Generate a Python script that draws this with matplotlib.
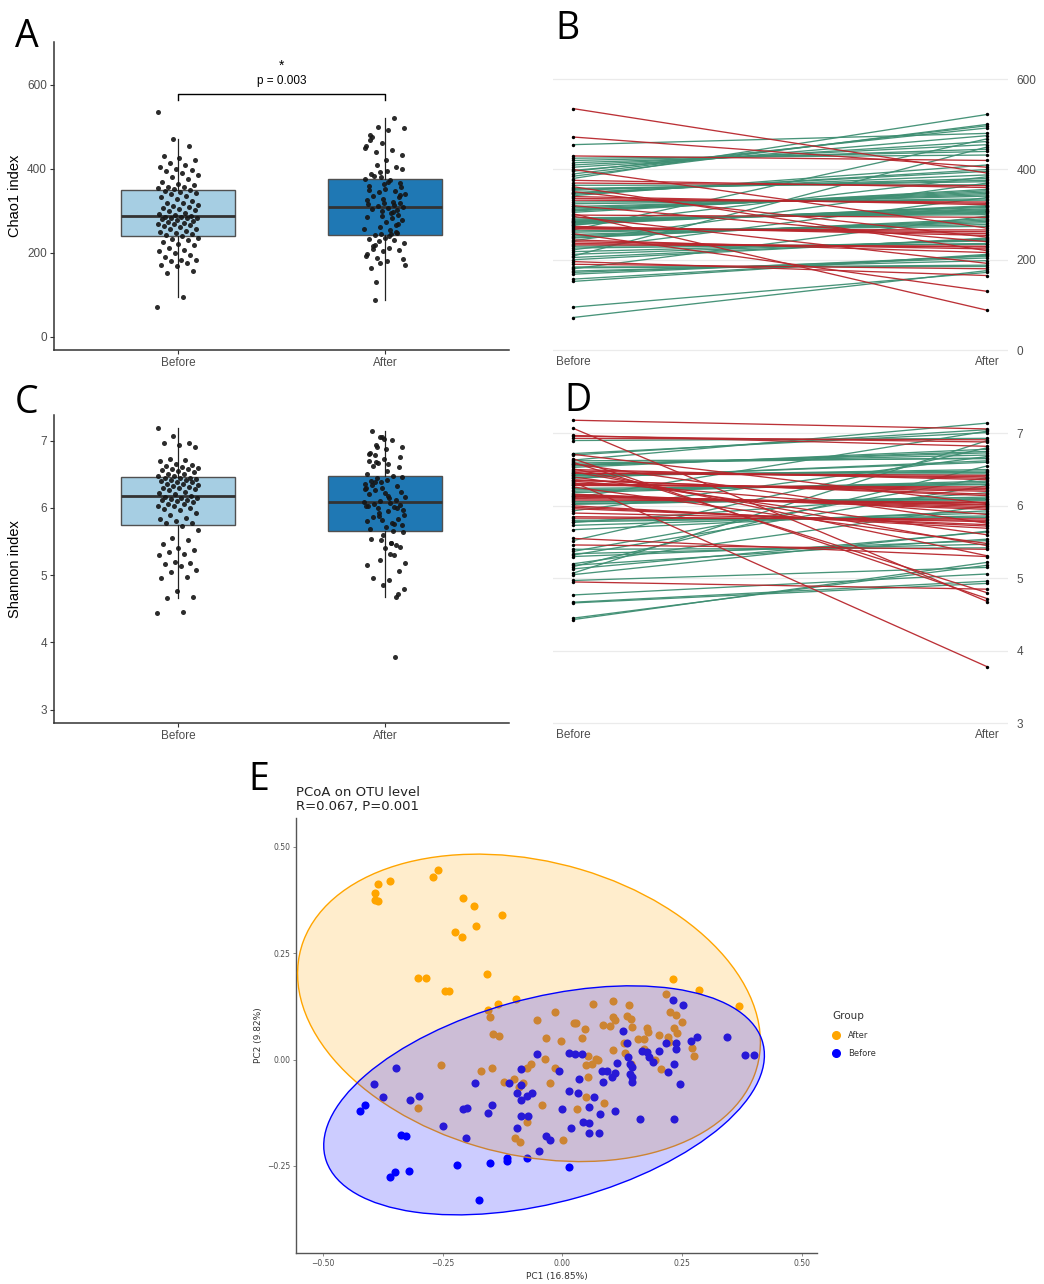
import matplotlib
matplotlib.use('Agg')
import matplotlib.pyplot as plt
from matplotlib.lines import Line2D
from matplotlib.patches import Ellipse
import numpy as np

# ---- data ----
groups = ['Before', 'After']

# Chao1, paired samples (same order in both lists)
chao1_before = [72, 95, 152, 157, 168, 172, 175, 180, 182, 184,
                190, 196, 200, 205, 208, 212, 218, 222, 226, 230,
                233, 236, 240, 242, 244, 248, 250, 253, 256, 258,
                261, 264, 266, 268, 270, 272, 274, 276, 278, 280,
                282, 283, 284, 285, 286, 288, 290, 293, 296, 299,
                302, 305, 308, 310, 312, 315, 318, 320, 324, 328,
                332, 336, 340, 342, 345, 347, 349, 351, 354, 356,
                358, 362, 365, 370, 376, 380, 385, 390, 396, 398,
                400, 405, 410, 415, 420, 425, 430, 455, 472, 535]
chao1_after = [176, 172, 212, 210, 208, 204, 198, 297, 188, 185,
               180, 165, 248, 246, 450, 244, 242, 338, 236, 234,
               230, 228, 224, 370, 216, 291, 288, 285, 282, 130,
               278, 274, 468, 266, 262, 258, 254, 384, 320, 318,
               316, 313, 311, 309, 307, 305, 303, 300, 192, 294,
               88, 356, 353, 350, 347, 344, 341, 240, 335, 332,
               328, 325, 322, 410, 400, 396, 388, 250, 380, 376,
               373, 220, 366, 364, 360, 522, 500, 497, 492, 475,
               270, 462, 455, 445, 440, 432, 420, 480, 405, 392]

# Shannon, paired samples
shannon_before = [4.43, 4.45, 4.66, 4.67, 4.77, 4.95, 4.97, 5.05, 5.07, 5.13,
                  5.16, 5.18, 5.20, 5.30, 5.32, 5.34, 5.37, 5.40, 5.46, 5.52,
                  5.55, 5.67, 5.73, 5.77, 5.78, 5.80, 5.83, 5.85, 5.90, 5.93,
                  5.96, 5.98, 6.00, 6.02, 6.03, 6.05, 6.06, 6.08, 6.10, 6.11,
                  6.12, 6.13, 6.14, 6.15, 6.16, 6.18, 6.20, 6.22, 6.24, 6.26,
                  6.28, 6.29, 6.30, 6.31, 6.33, 6.34, 6.35, 6.36, 6.38, 6.39,
                  6.40, 6.41, 6.42, 6.43, 6.44, 6.45, 6.45, 6.47, 6.48, 6.50,
                  6.51, 6.53, 6.55, 6.56, 6.57, 6.58, 6.59, 6.60, 6.62, 6.63,
                  6.65, 6.70, 6.71, 6.72, 6.90, 6.93, 6.96, 6.97, 7.07, 7.18]
shannon_after = [5.22, 5.18, 4.93, 4.96, 5.06, 4.85, 5.15, 5.65, 6.90, 5.64,
                 6.55, 5.54, 6.00, 5.52, 6.28, 5.47, 6.39, 5.42, 5.40, 6.80,
                 5.30, 5.93, 5.90, 6.18, 5.86, 5.84, 5.82, 5.80, 5.78, 6.68,
                 5.74, 5.72, 5.69, 6.12, 6.10, 6.09, 6.07, 6.05, 6.04, 7.03,
                 6.02, 6.01, 5.99, 5.97, 5.95, 6.34, 6.32, 6.30, 6.29, 5.48,
                 6.26, 6.24, 6.22, 6.20, 3.78, 5.88, 6.16, 6.14, 6.62, 6.60,
                 5.60, 6.50, 6.48, 6.44, 6.46, 6.42, 6.40, 5.45, 6.38, 6.36,
                 5.31, 6.78, 6.75, 6.73, 6.70, 5.76, 6.66, 4.80, 6.65, 7.14,
                 4.72, 7.05, 6.03, 7.01, 6.93, 6.91, 6.88, 6.82, 4.68, 7.06]

chao1_p_text = 'p = 0.003'
chao1_sig_text = '*'

# PCoA coordinates (PC1, PC2)
pcoa_after = [
    (-0.385, 0.413), (-0.360, 0.421), (-0.391, 0.391), (-0.391, 0.374), (-0.386, 0.372),
    (-0.270, 0.429), (-0.261, 0.446), (-0.207, 0.379), (-0.184, 0.360), (-0.180, 0.313),
    (-0.126, 0.339), (-0.224, 0.301), (-0.210, 0.287), (-0.158, 0.200), (-0.303, 0.191),
    (-0.285, 0.192), (-0.245, 0.161), (-0.237, 0.162), (-0.135, 0.130), (-0.098, 0.142),
    (-0.155, 0.117), (-0.151, 0.099), (0.230, 0.189), (0.285, 0.164), (0.370, 0.127),
    (-0.054, 0.092), (-0.016, 0.111), (0.064, 0.131), (0.106, 0.137), (0.138, 0.128),
    (0.216, 0.153), (0.224, 0.111), (0.238, 0.104), (0.250, 0.089), (0.106, 0.101),
    (0.110, 0.093), (0.134, 0.103), (0.144, 0.095), (0.024, 0.085), (0.029, 0.087),
    (0.085, 0.081), (0.100, 0.078), (0.146, 0.076), (0.048, 0.071), (0.176, 0.074),
    (0.178, 0.064), (0.202, 0.057), (0.220, 0.054), (0.234, 0.073), (0.240, 0.062),
    (0.158, 0.048), (0.170, 0.048), (-0.146, 0.060), (-0.133, 0.056), (-0.034, 0.051),
    (0.041, 0.051), (-0.003, 0.043), (0.128, 0.040), (0.222, 0.041), (0.270, 0.028),
    (0.275, 0.009), (0.106, 0.023), (0.130, 0.015), (0.170, 0.024), (0.053, 0.009),
    (0.070, 0.001), (0.074, -0.002), (0.061, -0.010), (0.050, -0.013), (-0.036, 0.002),
    (-0.066, -0.010), (-0.075, -0.020), (-0.254, -0.012), (-0.171, -0.027), (-0.147, -0.020),
    (-0.016, -0.020), (0.144, -0.010), (0.194, -0.002), (0.206, -0.023), (0.054, -0.041),
    (-0.123, -0.054), (-0.102, -0.045), (-0.091, -0.064), (-0.026, -0.056), (-0.082, -0.056),
    (0.050, -0.089), (0.086, -0.103), (-0.042, -0.107), (0.030, -0.117), (-0.301, -0.114),
    (-0.075, -0.148), (-0.099, -0.185), (-0.088, -0.194), (0.002, -0.189),
]
pcoa_before = [
    (-0.424, -0.122), (-0.412, -0.107), (-0.394, -0.057), (-0.376, -0.089), (-0.348, -0.019),
    (-0.338, -0.177), (-0.328, -0.180), (-0.360, -0.277), (-0.350, -0.264), (-0.320, -0.261),
    (-0.319, -0.095), (-0.299, -0.085), (-0.250, -0.157), (-0.220, -0.247), (-0.207, -0.117),
    (-0.200, -0.114), (-0.202, -0.185), (-0.183, -0.056), (-0.175, -0.330), (-0.155, -0.126),
    (-0.147, -0.108), (-0.151, -0.244), (-0.116, -0.232), (-0.116, -0.238), (-0.111, -0.056),
    (-0.096, -0.079), (-0.087, -0.023), (-0.087, -0.059), (-0.086, -0.096), (-0.086, -0.132),
    (-0.072, -0.132), (-0.074, -0.085), (-0.063, -0.079), (-0.096, -0.161), (-0.074, -0.232),
    (-0.050, -0.216), (-0.034, -0.180), (-0.027, -0.189), (-0.053, 0.013), (-0.008, -0.027),
    (0.000, -0.116), (0.013, -0.073), (0.013, 0.015), (0.026, 0.012), (0.041, 0.013),
    (0.032, -0.078), (0.035, -0.045), (0.018, -0.162), (0.043, -0.146), (0.056, -0.150),
    (0.056, -0.111), (0.056, -0.172), (0.066, -0.087), (0.077, -0.173), (0.079, -0.128),
    (0.082, -0.026), (0.084, -0.053), (0.094, -0.026), (0.104, -0.040), (0.110, -0.031),
    (0.110, -0.120), (0.114, -0.009), (0.126, 0.067), (0.134, 0.039), (0.136, 0.005),
    (0.142, -0.010), (0.146, -0.018), (0.141, -0.034), (0.146, -0.040), (0.145, -0.054),
    (0.162, -0.140), (0.166, 0.021), (0.176, 0.017), (0.181, 0.005), (0.190, -0.005),
    (0.202, 0.021), (0.216, 0.038), (0.221, -0.029), (0.232, 0.140), (0.233, -0.010),
    (0.238, 0.040), (0.238, 0.025), (0.234, -0.139), (0.246, -0.057), (0.252, 0.129),
    (0.269, 0.044), (0.281, 0.054), (0.344, 0.054), (0.382, 0.010), (0.400, 0.010),
    (0.013, -0.253),
]
# 95% confidence ellipses: centre, semi-axes, angle (deg)
ellipse_center = {'After': (-0.070, 0.1215), 'Before': (-0.0385, -0.096)}
ellipse_axes = {'After': (0.497, 0.343), 'Before': (0.477, 0.239)}
ellipse_angle = {'After': -18.5, 'Before': 17.5}

pcoa_title = ['PCoA on OTU level', 'R=0.067, P=0.001']
pc1_label = 'PC1 (16.85%)'
pc2_label = 'PC2 (9.82%)'

# ---- styles ----
box_fill = ['#A6CEE3', '#1F78B4']
up_col = '#3E8E72'
down_col = '#B8262C'
grp_col = {'After': '#FFA500', 'Before': '#0000FF'}
tick_col = '#4D4D4D'
sans = ['Liberation Sans', 'DejaVu Sans']

W, H = 1044, 1284
fig = plt.figure(figsize=(W / 100, H / 100), dpi=100)


def px_rect(x0, y0, x1, y1):
    return [x0 / W, 1 - y1 / H, (x1 - x0) / W, (y1 - y0) / H]


def jitter(n, shift):
    return ((np.arange(n) * 0.618034 + shift) % 1 - 0.5) * 0.2


def box_panel(ax, before, after, ylim, yticks, ylabel):
    data = [before, after]
    bp = ax.boxplot(data, positions=[1, 2], widths=0.55, patch_artist=True,
                    showfliers=False, showcaps=False, whis=1.5,
                    boxprops=dict(edgecolor='#505050', linewidth=1.0),
                    medianprops=dict(color='#333333', linewidth=2.0),
                    whiskerprops=dict(color='#222222', linewidth=0.9))
    for patch, c in zip(bp['boxes'], box_fill):
        patch.set_facecolor(c)
    for i, vals in enumerate(data):
        ax.scatter(i + 1 + jitter(len(vals), 0.37 * i), vals, s=13,
                   color='#151515', alpha=0.9, lw=0, zorder=3)
    ax.set_xlim(0.4, 2.6)
    ax.set_ylim(*ylim)
    ax.set_yticks(yticks)
    ax.set_xticks([1, 2])
    ax.set_xticklabels(groups)
    ax.set_ylabel(ylabel, fontsize=10.5, family=sans)
    ax.yaxis.set_label_coords(-0.070, 0.5)
    for s in ['top', 'right']:
        ax.spines[s].set_visible(False)
    for s in ['left', 'bottom']:
        ax.spines[s].set_color('#333333')
        ax.spines[s].set_linewidth(1.1)
    ax.tick_params(length=3, width=0.8, color='#333333', labelsize=8.5,
                   labelcolor=tick_col, pad=2)
    for lab in ax.get_xticklabels() + ax.get_yticklabels():
        lab.set_family(sans)


def paired_panel(ax, before, after, ylim, yticks):
    for b, a in zip(before, after):
        ax.plot([1, 2], [b, a], color=up_col if a > b else down_col,
                lw=0.95, alpha=0.95, zorder=2)
    n = len(before)
    ax.scatter(np.ones(n), before, s=6, color='black', lw=0, zorder=3)
    ax.scatter(np.full(n, 2), after, s=6, color='black', lw=0, zorder=3)
    ax.set_xlim(0.952, 2.05)
    ax.set_ylim(*ylim)
    ax.yaxis.tick_right()
    ax.set_yticks(yticks)
    ax.set_xticks([1, 2])
    ax.set_xticklabels(groups)
    ax.grid(axis='y', color='#EBEBEB', lw=0.9)
    ax.set_axisbelow(True)
    for s in ax.spines.values():
        s.set_visible(False)
    ax.tick_params(axis='y', length=0, labelsize=8.5, labelcolor=tick_col, pad=6)
    ax.tick_params(axis='x', length=0, labelsize=8.5, labelcolor=tick_col, pad=3)
    for lab in ax.get_xticklabels() + ax.get_yticklabels():
        lab.set_family(sans)


# A
axA = fig.add_axes(px_rect(54, 42, 509, 350))
box_panel(axA, chao1_before, chao1_after, (-31, 702), [0, 200, 400, 600], 'Chao1 index')
axA.plot([1, 1, 2, 2], [565, 578, 578, 565], color='black', lw=1.0)
axA.text(1.5, 608, chao1_p_text, ha='center', va='center', fontsize=8.5, family=sans)
axA.text(1.5, 645, chao1_sig_text, ha='center', va='center', fontsize=10, family=sans)

# B
axB = fig.add_axes(px_rect(553, 72, 1008, 352))
paired_panel(axB, chao1_before, chao1_after, (-4.4, 616), [0, 200, 400, 600])

# C
axC = fig.add_axes(px_rect(54, 415, 509, 723))
box_panel(axC, shannon_before, shannon_after, (2.80, 7.38), [3, 4, 5, 6, 7], 'Shannon index')

# D
axD = fig.add_axes(px_rect(553, 415, 1008, 725))
paired_panel(axD, shannon_before, shannon_after, (2.977, 7.252), [3, 4, 5, 6, 7])

# E
axE = fig.add_axes(px_rect(296, 818, 817, 1253))
pts = {'After': np.array(pcoa_after), 'Before': np.array(pcoa_before)}
for g in ['After', 'Before']:
    axE.scatter(pts[g][:, 0], pts[g][:, 1], s=34, color=grp_col[g], lw=0, zorder=2)
for g in ['After', 'Before']:
    a, b = ellipse_axes[g]
    axE.add_patch(Ellipse(ellipse_center[g], 2 * a, 2 * b, angle=ellipse_angle[g],
                          facecolor=grp_col[g], alpha=0.2, edgecolor='none', zorder=3))
    axE.add_patch(Ellipse(ellipse_center[g], 2 * a, 2 * b, angle=ellipse_angle[g],
                          facecolor='none', edgecolor=grp_col[g], lw=1.0, zorder=3))
axE.set_xlim(-0.557, 0.532)
axE.set_ylim(-0.455, 0.568)
axE.set_xticks([-0.5, -0.25, 0, 0.25, 0.5])
axE.set_yticks([-0.25, 0, 0.25, 0.5])
fmt = plt.FuncFormatter(lambda v, _: f'{v:.2f}'.replace('-', '\u2212'))
axE.xaxis.set_major_formatter(fmt)
axE.yaxis.set_major_formatter(fmt)
for s in ['top', 'right']:
    axE.spines[s].set_visible(False)
for s in ['left', 'bottom']:
    axE.spines[s].set_color('#555555')
    axE.spines[s].set_linewidth(1.0)
axE.tick_params(length=2, width=0.6, color='#777777', labelsize=5.5, labelcolor=tick_col, pad=2)
axE.set_xlabel(pc1_label, fontsize=6.5, color='#333333', labelpad=3)
axE.set_ylabel(pc2_label, fontsize=6.5, color='#333333', labelpad=3)
fig.text(296 / W, 1 - 796 / H, pcoa_title[0], fontsize=9.5, va='baseline', color='#222222')
fig.text(296 / W, 1 - 810 / H, pcoa_title[1], fontsize=9.5, va='baseline', color='#222222')

handles = [Line2D([], [], marker='o', ls='', color=grp_col[g], markersize=5.5) for g in ['After', 'Before']]
leg = axE.legend(handles, ['After', 'Before'], title='Group', loc='upper left',
                 bbox_to_anchor=(828 / W, 1 - 1007 / H), bbox_transform=fig.transFigure,
                 frameon=False, fontsize=6, title_fontsize=7.5, handlelength=1.0,
                 handletextpad=0.9, labelspacing=1.15, borderpad=0)
leg._legend_box.align = 'left'
for t in leg.get_texts():
    t.set_color('#333333')
leg.get_title().set_color('#333333')

# panel letters
for letter, x, y in [('A', 15, 47), ('B', 555, 39), ('C', 15, 413), ('D', 564, 411), ('E', 248, 790)]:
    fig.text(x / W, 1 - y / H, letter, fontsize=27, family=['Open Sans', 'DejaVu Sans'], va='baseline')

fig.savefig('out.png', dpi=100)
